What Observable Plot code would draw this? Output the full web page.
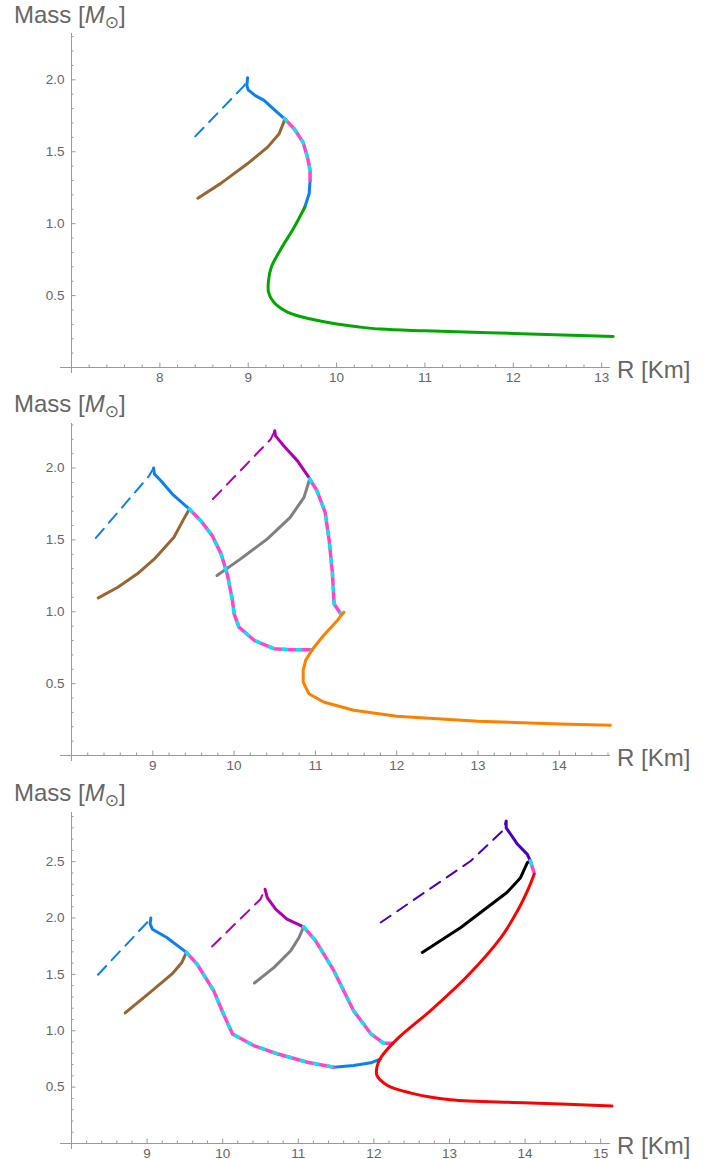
<!DOCTYPE html>
<html><head><meta charset="utf-8">
<script src="https://cdn.jsdelivr.net/npm/d3@7"></script>
<script src="https://cdn.jsdelivr.net/npm/@observablehq/plot@0.6"></script>
<style>body{margin:0;background:#fff} #c svg{display:block}</style>
</head><body><div id="c"></div>
<script>
// ---------- Panel 1 data: [R (km), M (Msun)] ----------
const p1BlueDashed = [[8.40,1.607],[8.955,1.96],[8.993,2.015]];
const p1BlueSolidA = [[8.993,2.015],[8.985,1.96],[9.0,1.93],[9.08,1.89],[9.18,1.857],[9.30,1.79],[9.41,1.73]];
const p1Pink = [[9.41,1.73],[9.52,1.66],[9.62,1.567],[9.67,1.462],[9.70,1.37],[9.70,1.30]];
const p1BlueSolidB = [[9.70,1.30],[9.69,1.21],[9.64,1.114]];
const p1Brown = [[8.43,1.177],[8.69,1.28],[8.99,1.416],[9.22,1.532],[9.35,1.625],[9.41,1.718]];
const p1Green = [[9.64,1.114],[9.52,0.975],[9.37,0.824],[9.26,0.696],[9.23,0.604],[9.23,0.522],[9.29,0.453],[9.45,0.383],[9.71,0.337],[10.0,0.302],[10.25,0.282],[10.5,0.267],[11.0,0.255],[12.0,0.237],[13.13,0.216]];

// ---------- Panel 2 data ----------
const p2BlueDashed = [[8.30,1.514],[8.955,1.946],[9.01,2.0]];
const p2BlueSolid = [[9.01,2.0],[9.02,1.958],[9.10,1.912],[9.24,1.819],[9.45,1.715]];
const p2Brown = [[8.33,1.097],[8.57,1.171],[8.81,1.264],[9.02,1.368],[9.26,1.518],[9.37,1.634],[9.45,1.715]];
const p2PinkLeft = [[9.45,1.715],[9.59,1.634],[9.73,1.53],[9.84,1.403],[9.92,1.252],[9.98,1.078],[10.0,0.986],[10.06,0.893],[10.25,0.80],[10.49,0.743],[10.70,0.736],[10.96,0.736]];
const p2PurpleDashed = [[9.74,1.785],[10.45,2.20],[10.50,2.26]];
const p2PurpleSolid = [[10.50,2.26],[10.51,2.224],[10.61,2.155],[10.78,2.05],[10.92,1.935]];
const p2Gray = [[9.79,1.252],[10.08,1.368],[10.41,1.507],[10.69,1.657],[10.86,1.796],[10.93,1.924]];
const p2PinkRight = [[10.93,1.924],[11.02,1.842],[11.12,1.692],[11.17,1.495],[11.21,1.264],[11.23,1.056],[11.31,0.986]];
const p2Orange = [[11.35,0.997],[11.27,0.94],[11.10,0.835],[10.96,0.736],[10.88,0.662],[10.85,0.592],[10.85,0.511],[10.92,0.43],[11.10,0.372],[11.47,0.315],[12.0,0.273],[13.0,0.238],[14.0,0.22],[14.63,0.21]];

// ---------- Panel 3 data ----------
const p3BlueDashed = [[8.35,1.497],[9.02,1.975],[9.05,2.0]];
const p3BlueSolidA = [[9.05,2.0],[9.04,1.95],[9.07,1.90],[9.26,1.827],[9.52,1.695]];
const p3Brown = [[8.71,1.158],[9.04,1.341],[9.33,1.504],[9.46,1.606],[9.52,1.695]];
const p3PinkLeft = [[9.52,1.695],[9.66,1.592],[9.88,1.356],[10.01,1.149],[10.13,0.972],[10.41,0.869],[10.72,0.796],[11.12,0.721],[11.47,0.677]];
const p3BlueSolidB = [[11.47,0.677],[11.73,0.692],[11.96,0.716],[12.09,0.751]];
const p3PurpleDashed = [[9.86,1.748],[10.50,2.167],[10.56,2.256]];
const p3PurpleSolid = [[10.56,2.256],[10.59,2.181],[10.70,2.079],[10.85,1.99],[11.07,1.922]];
const p3Gray = [[10.42,1.424],[10.68,1.562],[10.90,1.71],[11.01,1.827],[11.07,1.922]];
const p3PinkRight = [[11.07,1.922],[11.23,1.798],[11.47,1.533],[11.73,1.179],[11.96,0.973],[12.13,0.889],[12.25,0.89]];
const p3IndigoDashed = [[12.09,1.96],[13.28,2.506],[13.70,2.772],[13.75,2.86]];
const p3IndigoSolid = [[13.75,2.86],[13.75,2.80],[13.90,2.654],[14.03,2.565],[14.07,2.506]];
const p3Black = [[12.64,1.695],[13.15,1.916],[13.76,2.226],[13.94,2.358],[14.03,2.491],[14.07,2.506]];
const p3PinkTop = [[14.07,2.506],[14.12,2.40]];
const p3Red = [[14.12,2.388],[14.05,2.27],[13.90,2.064],[13.68,1.827],[13.24,1.488],[12.75,1.179],[12.31,0.928],[12.09,0.76],[12.04,0.677],[12.04,0.604],[12.18,0.515],[12.49,0.447],[13.01,0.388],[13.98,0.362],[15.15,0.332]];

// ---------- tick labels ----------
const p1XLabels = [8, 9, 10, 11, 12, 13];
const p2XLabels = [9, 10, 11, 12, 13, 14];
const p3XLabels = [9, 10, 11, 12, 13, 14, 15];
const p12YLabels = [0.5, 1.0, 1.5, 2.0];
const p3YLabels = [0.5, 1.0, 1.5, 2.0, 2.5];

const C = {
  blue: "#0a80f2", brown: "#996633", green: "#00a800", pink: "#ff46c8", cyan: "#00e8f8",
  purple: "#b000b0", gray: "#808080", orange: "#ff8000", red: "#ff0000", indigo: "#4a00c0", black: "#000000"
};
const FONT = "Liberation Sans, Arial, sans-serif";
const AXIS = "#9a9a9a";

function solid(data, color, w = 3, curve = "linear") {
  return Plot.line(data, {x: d => d[0], y: d => d[1], stroke: color, strokeWidth: w, strokeLinejoin: "round", curve});
}
function dashed(data, color) {
  return Plot.line(data, {x: d => d[0], y: d => d[1], stroke: color, strokeWidth: 2, strokeDasharray: "12 8"});
}
function pinkCyan(data) {
  return [
    Plot.line(data, {x: d => d[0], y: d => d[1], stroke: C.pink, strokeWidth: 3.5, strokeLinejoin: "round"}),
    Plot.line(data, {x: d => d[0], y: d => d[1], stroke: C.cyan, strokeWidth: 3.5, strokeDasharray: "3 11"})
  ];
}

function panel(cfg) {
  const W = 728, ml = 71, mr = 118;
  const [x0, x1] = cfg.xDomain;
  const kx = (W - ml - mr) / (x1 - x0);
  const ky = (cfg.height - cfg.mt - cfg.mb) / cfg.yTop;
  const xMinor = d3.range(Math.round(x0 * 5) + 1, Math.floor(x1 * 5 + 1e-9) + 1).map(i => i / 5).filter(v => Math.abs(v - Math.round(v)) > 1e-6);
  const xMajor = d3.range(Math.ceil(x0 + 1e-9), Math.floor(x1) + 1);
  const yMinor = d3.range(1, Math.floor(cfg.yTop * 10 + 1e-9) + 1).map(i => i / 10).filter(v => Math.abs(v * 2 - Math.round(v * 2)) > 1e-6);
  const yMajor = d3.range(1, Math.floor(cfg.yTop * 2) + 1).map(i => i / 2);
  const svg = Plot.plot({
    width: W, height: cfg.height,
    marginLeft: ml, marginRight: mr, marginTop: cfg.mt, marginBottom: cfg.mb,
    x: {domain: cfg.xDomain, axis: null},
    y: {domain: [0, cfg.yTop], axis: null},
    style: {fontFamily: FONT, background: "#fff", overflow: "visible"},
    marks: [
      Plot.ruleY([0], {stroke: AXIS, strokeWidth: 1, insetLeft: -11}),
      Plot.ruleX([x0], {stroke: AXIS, strokeWidth: 1, insetBottom: -6}),
      Plot.ruleX(xMajor, {x: d => d, y1: 0, y2: 4.5 / ky, stroke: AXIS}),
      Plot.ruleX(xMinor, {x: d => d, y1: 0, y2: 2.5 / ky, stroke: AXIS}),
      Plot.ruleY(yMajor, {y: d => d, x1: x0, x2: x0 + 4.5 / kx, stroke: AXIS}),
      Plot.ruleY(yMinor, {y: d => d, x1: x0, x2: x0 + 2.5 / kx, stroke: AXIS}),
      Plot.text(cfg.xLabels, {x: d => d, y: 0, dy: 10, text: d => String(d), fill: "#666", fontSize: 13.5, fontFamily: FONT}),
      Plot.text(cfg.yLabels, {x: x0, y: d => d, dx: -7, textAnchor: "end", text: d => d.toFixed(1), fill: "#666", fontSize: 13.5, fontFamily: FONT}),
      ...cfg.marks
    ]
  });
  const s = d3.select(svg);
  const t = s.append("text").attr("x", 14).attr("y", cfg.labelY)
    .attr("text-anchor", "start")
    .attr("font-size", 24).attr("fill", "#666").attr("font-family", FONT);
  t.append("tspan").text("Mass [");
  t.append("tspan").attr("font-style", "italic").text("M");
  t.append("tspan").attr("font-size", 17).attr("dy", 5).attr("font-family", "DejaVu Sans").text("⊙");
  t.append("tspan").attr("dy", -5).text("]");
  s.append("text").attr("x", 617).attr("y", cfg.height - cfg.mb + 11)
    .attr("text-anchor", "start")
    .attr("font-size", 24).attr("fill", "#666").attr("font-family", FONT).text("R [Km]");
  return svg;
}

const host = document.getElementById("c");
host.append(panel({
  xDomain: [7.0, 13.1], yTop: 2.322, height: 388, mt: 33, mb: 21, labelY: 23,
  xLabels: p1XLabels, yLabels: p12YLabels,
  marks: [
    dashed(p1BlueDashed, C.blue),
    solid(p1Brown, C.brown),
    solid(p1BlueSolidA, C.blue),
    solid(p1BlueSolidB, C.blue),
    ...pinkCyan(p1Pink),
    solid(p1Green, C.green, 3, "catmull-rom")
  ]
}));
host.append(panel({
  xDomain: [8.0, 14.63], yTop: 2.31, height: 388, mt: 35, mb: 21, labelY: 24,
  xLabels: p2XLabels, yLabels: p12YLabels,
  marks: [
    dashed(p2BlueDashed, C.blue),
    dashed(p2PurpleDashed, C.purple),
    solid(p2Brown, C.brown),
    solid(p2Gray, C.gray),
    solid(p2BlueSolid, C.blue),
    solid(p2PurpleSolid, C.purple),
    ...pinkCyan(p2PinkLeft),
    ...pinkCyan(p2PinkRight),
    solid(p2Orange, C.orange)
  ]
}));
host.append(panel({
  xDomain: [8.0, 15.13], yTop: 2.936, height: 383, mt: 36, mb: 16, labelY: 25,
  xLabels: p3XLabels, yLabels: p3YLabels,
  marks: [
    dashed(p3BlueDashed, C.blue),
    dashed(p3PurpleDashed, C.purple),
    dashed(p3IndigoDashed, C.indigo),
    solid(p3Brown, C.brown),
    solid(p3Gray, C.gray),
    solid(p3Black, C.black),
    solid(p3BlueSolidA, C.blue),
    solid(p3BlueSolidB, C.blue),
    solid(p3PurpleSolid, C.purple),
    solid(p3IndigoSolid, C.indigo),
    ...pinkCyan(p3PinkLeft),
    ...pinkCyan(p3PinkRight),
    ...pinkCyan(p3PinkTop),
    solid(p3Red, C.red, 3, "catmull-rom")
  ]
}));
</script></body></html>
